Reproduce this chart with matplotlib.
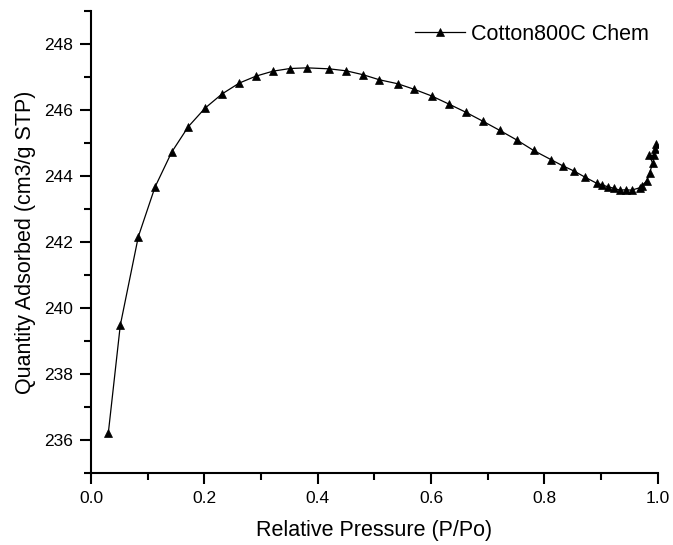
import matplotlib
matplotlib.use("Agg")
import matplotlib.pyplot as plt
from matplotlib.ticker import MultipleLocator

plt.rcParams['font.family'] = ['Liberation Sans', 'DejaVu Sans']

# relative pressure (P/Po) and quantity adsorbed (cm3/g STP)
pressure = [0.0305, 0.0517, 0.0835, 0.1129, 0.1424, 0.1717, 0.2012, 0.2312,
            0.2617, 0.2912, 0.3212, 0.3512, 0.3812, 0.4205, 0.4505, 0.4805,
            0.5087, 0.541, 0.5705, 0.601, 0.632, 0.661, 0.692, 0.721,
            0.751, 0.781, 0.812, 0.832, 0.852, 0.872, 0.892, 0.902,
            0.912, 0.922, 0.933, 0.9435, 0.954, 0.968, 0.972, 0.981,
            0.986, 0.991, 0.985, 0.993, 0.996, 0.9965]
adsorbed = [236.21, 239.48, 242.16, 243.66, 244.72, 245.49, 246.05, 246.48,
            246.81, 247.02, 247.17, 247.25, 247.27, 247.24, 247.18, 247.06,
            246.91, 246.79, 246.62, 246.42, 246.17, 245.93, 245.65, 245.38,
            245.09, 244.77, 244.49, 244.31, 244.15, 243.96, 243.78, 243.73,
            243.67, 243.63, 243.57, 243.58, 243.57, 243.64, 243.70, 243.86,
            244.10, 244.39, 244.62, 244.62, 244.81, 244.98]
series_name = "Cotton800C Chem"

fig = plt.figure(figsize=(6.73, 5.45), dpi=100)
ax = fig.add_axes([0.1352, 0.1315, 0.8421, 0.8489])

ax.plot(pressure, adsorbed, color='black', linewidth=0.9, marker='^',
        markersize=6, markeredgewidth=0.5, label=series_name)

ax.set_xlim(0, 1.0)
ax.set_ylim(235, 249)
ax.xaxis.set_major_locator(MultipleLocator(0.2))
ax.xaxis.set_minor_locator(MultipleLocator(0.1))
ax.yaxis.set_minor_locator(MultipleLocator(1))
ax.set_yticks([236, 238, 240, 242, 244, 246, 248])
ax.xaxis.set_major_formatter(matplotlib.ticker.FormatStrFormatter('%.1f'))

for s in ['top', 'right']:
    ax.spines[s].set_visible(False)
for s in ['left', 'bottom']:
    ax.spines[s].set_linewidth(1.5)

ax.tick_params(which='major', direction='out', length=8, width=1.5,
               labelsize=12.5, pad=5)
ax.tick_params(which='minor', direction='out', length=5, width=1.5)

ax.set_xlabel("Relative Pressure (P/Po)", fontsize=15.5, labelpad=10)
ax.set_ylabel("Quantity Adsorbed (cm3/g STP)", fontsize=15.5, labelpad=6)

ax.legend(loc='upper right', frameon=False, fontsize=15.5,
          handlelength=2.3, handletextpad=0.3, borderaxespad=0,
          bbox_to_anchor=(1.0, 0.99))

fig.savefig("out.png", dpi=100)
